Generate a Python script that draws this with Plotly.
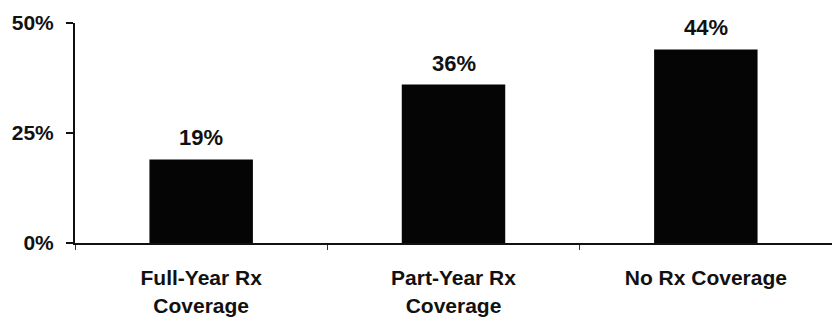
import plotly.graph_objects as go

# Share of people by prescription-drug coverage status
categories = ["Full-Year Rx<br>Coverage", "Part-Year Rx<br>Coverage", "No Rx Coverage"]
values = [19, 36, 44]
value_labels = ["19%", "36%", "44%"]
y_ticks = [0, 25, 50]
y_tick_labels = ["0%", "25%", "50%"]

FONT = "Liberation Sans, Arial, sans-serif"
INK = "#111111"

fig = go.Figure(
    go.Bar(
        x=categories,
        y=values,
        width=0.41,
        marker=dict(color="#050505", line=dict(width=0)),
        hoverinfo="skip",
    )
)

# Value labels sitting above each bar
for cat, v, lab in zip(categories, values, value_labels):
    fig.add_annotation(
        x=cat, y=v, text=f"<b>{lab}</b>", showarrow=False,
        yanchor="bottom", yshift=7,
        font=dict(family=FONT, size=22, color=INK),
    )

fig.update_layout(
    width=832, height=323,
    margin=dict(l=75, r=0, t=23, b=80),
    paper_bgcolor="white", plot_bgcolor="white",
    showlegend=False,
    bargap=0.59,
    font=dict(family=FONT, size=21, color=INK),
)

fig.update_xaxes(
    showline=True, linecolor="#111111", linewidth=2,
    ticks="outside", tickson="boundaries", ticklen=5, tickwidth=1, tickcolor="#333333",
    tickfont=dict(family=FONT, size=21, color=INK),
    tickprefix="<b>", ticksuffix="</b>",
    ticklabelstandoff=15,
    showgrid=False, zeroline=False, fixedrange=True,
)

fig.update_yaxes(
    range=[0, 50],
    tickvals=y_ticks, ticktext=[f"<b>{t}</b>" for t in y_tick_labels],
    showline=True, linecolor="#111111", linewidth=2,
    ticks="outside", ticklen=7, tickwidth=1.5, tickcolor="#111111",
    tickfont=dict(family=FONT, size=21, color=INK),
    ticklabelstandoff=8,
    showgrid=False, zeroline=False, fixedrange=True,
)

fig.write_html("out.html")
